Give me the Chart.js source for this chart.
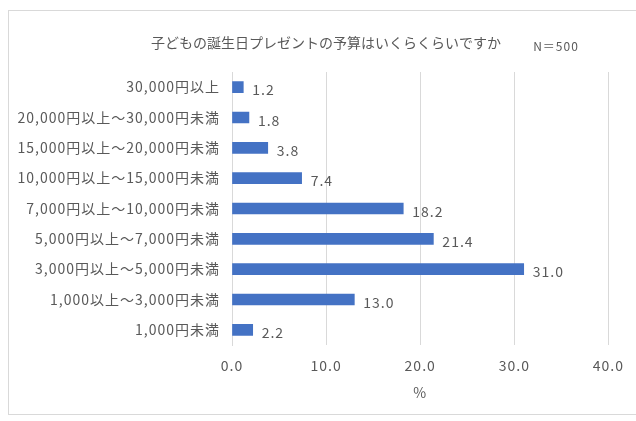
<!DOCTYPE html>
<html>
<head>
<meta charset="utf-8">
<script src="https://cdn.jsdelivr.net/npm/chart.js@4/dist/chart.umd.min.js"></script>
<style>
  html, body { margin: 0; padding: 0; background: #fff; }
  #frame {
    position: absolute; left: 8px; top: 10px; width: 640px; height: 405px;
    border: 1px solid #d9d9d9; box-sizing: border-box;
  }
  #wrap { position: absolute; left: 0; top: 0; width: 636px; height: 421px; }
</style>
</head>
<body>
<div id="frame"></div>
<div id="wrap"><canvas id="chart"></canvas></div>
<script>
// Budget ranges, top to bottom
const categories = [
  "30,000円以上",
  "20,000円以上～30,000円未満",
  "15,000円以上～20,000円未満",
  "10,000円以上～15,000円未満",
  "7,000円以上～10,000円未満",
  "5,000円以上～7,000円未満",
  "3,000円以上～5,000円未満",
  "1,000以上～3,000円未満",
  "1,000円未満"
];
const shares = [1.2, 1.8, 3.8, 7.4, 18.2, 21.4, 31.0, 13.0, 2.2];
const xTicks = [0, 10, 20, 30, 40];

const FONT = "'Noto Sans CJK JP', 'Noto Sans', sans-serif";
const GREY = "#595959";

// wider text like the original
const spacing = {
  id: "spacing",
  beforeLayout(chart) { chart.ctx.letterSpacing = "1px"; },
  beforeDraw(chart) { chart.ctx.letterSpacing = "1px"; }
};

// value labels at bar ends
const valueLabels = {
  id: "valueLabels",
  afterDatasetsDraw(chart) {
    const ctx = chart.ctx;
    const meta = chart.getDatasetMeta(0);
    ctx.save();
    ctx.font = "14px " + FONT;
    ctx.fillStyle = GREY;
    ctx.textAlign = "left";
    ctx.textBaseline = "middle";
    meta.data.forEach((bar, i) => {
      const { x, y } = bar.getProps(["x", "y"], true);
      ctx.fillText(shares[i].toFixed(1), x + 9, y + 3);
    });
    ctx.restore();
  }
};

// title and sample size
const titles = {
  id: "titles",
  afterDraw(chart) {
    const ctx = chart.ctx;
    ctx.save();
    ctx.letterSpacing = "0px";
    ctx.fillStyle = GREY;
    ctx.textBaseline = "middle";
    ctx.textAlign = "center";
    ctx.font = "14px " + FONT;
    ctx.fillText("子どもの誕生日プレゼントの予算はいくらくらいですか", 326, 43);
    ctx.letterSpacing = "1px";
    ctx.font = "12px " + FONT;
    ctx.fillText("N＝500", 556, 46);
    ctx.restore();
  }
};

new Chart(document.getElementById("chart"), {
  type: "bar",
  data: {
    labels: categories,
    datasets: [{
      data: shares,
      backgroundColor: "#4472C4",
      barThickness: 11
    }]
  },
  options: {
    indexAxis: "y",
    responsive: true,
    maintainAspectRatio: false,
    animation: false,
    layout: { padding: { top: 72, right: 26, bottom: 20, left: 14 } },
    plugins: { legend: { display: false }, tooltip: { enabled: false } },
    scales: {
      x: {
        min: 0, max: 40,
        afterBuildTicks(axis) { axis.ticks = xTicks.map(v => ({ value: v })); },
        afterFit(axis) { axis.height = 56; },
        grid: { color: "#d9d9d9", drawTicks: false },
        border: { display: false },
        ticks: {
          color: GREY, padding: 12,
          font: { family: FONT, size: 14 },
          callback: v => v.toFixed(1)
        },
        title: {
          display: true, text: "%", color: GREY, padding: { top: 0, bottom: 0 },
          font: { family: FONT, size: 14 }
        }
      },
      y: {
        afterFit(axis) { axis.width = 218; },
        grid: { display: false, drawTicks: false },
        border: { display: true, color: "#d9d9d9" },
        ticks: {
          color: GREY, padding: 12,
          font: { family: FONT, size: 14 }
        }
      }
    }
  },
  plugins: [spacing, valueLabels, titles]
});
</script>
</body>
</html>
